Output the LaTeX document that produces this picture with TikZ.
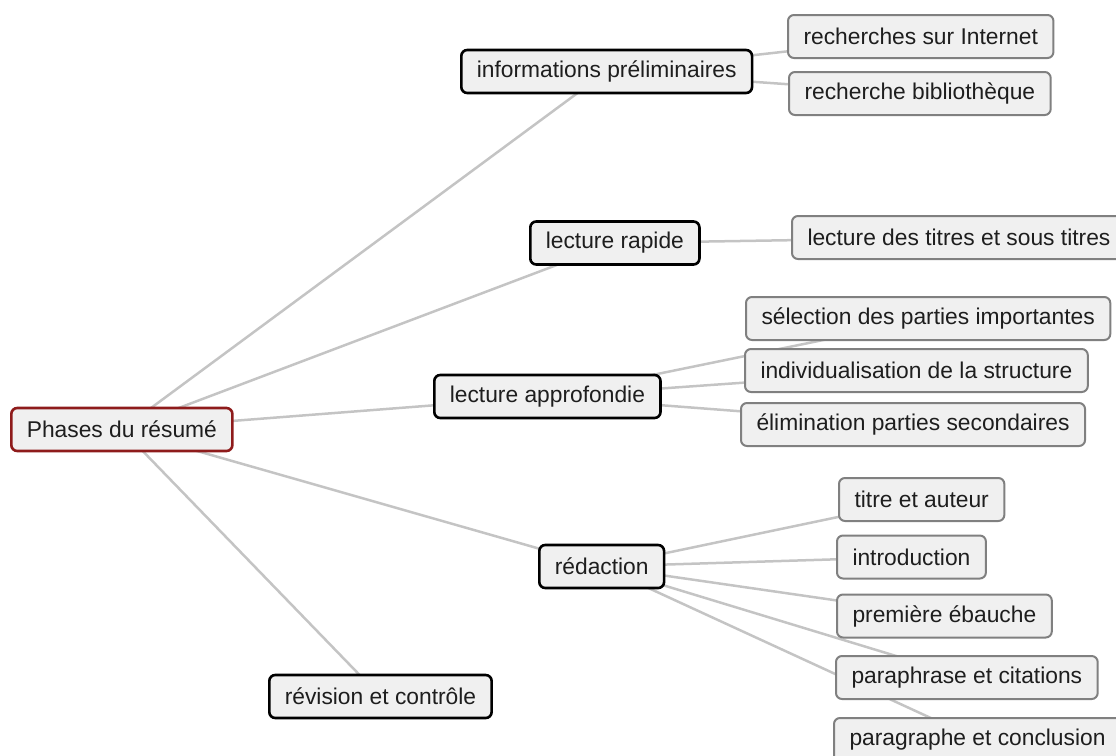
\documentclass[tikz,border=0pt]{standalone}
\usepackage{fontspec}
\setmainfont{Liberation Sans}
\usetikzlibrary{backgrounds}
\definecolor{boxfill}{HTML}{F0F0F0}
\definecolor{rootred}{HTML}{8E1B1B}
\definecolor{leafborder}{HTML}{808080}
\definecolor{linkgray}{HTML}{C4C4C4}
\definecolor{txt}{HTML}{1E1E1E}
\begin{document}
\begin{tikzpicture}[x=1pt,y=-1pt,
  basebox/.style={anchor=west, fill=boxfill, rounded corners=6pt, minimum height=43pt,
    inner xsep=15.5pt, inner ysep=0pt, text=txt, font=\fontsize{22.8}{27}\selectfont},
  rootbox/.style={basebox, draw=rootred, line width=2.6pt},
  mainbox/.style={basebox, draw=black, line width=2.6pt},
  leafbox/.style={basebox, draw=leafborder, line width=2pt},
  link/.style={draw=linkgray, line width=2.5pt}]
\useasboundingbox (0,0) rectangle (1116,755);
% nodes
\node[rootbox] (root) at (10,429.5) {Phases du résumé};
\node[mainbox] (info) at (460,71.5) {informations préliminaires};
\node[mainbox] (rapide) at (529,243) {lecture rapide};
\node[mainbox] (appro) at (433,396.5) {lecture approfondie};
\node[mainbox] (redac) at (538,566.5) {rédaction};
\node[mainbox] (revis) at (268,696.5) {révision et contrôle};
\node[leafbox] (rint) at (787,36.5) {recherches sur Internet};
\node[leafbox] (rbib) at (788,93.5) {recherche bibliothèque};
\node[leafbox] (titres) at (791,237.5) {lecture des titres et sous titres};
\node[leafbox] (sel) at (745,318.5) {sélection des parties importantes};
\node[leafbox] (indiv) at (744,370.5) {individualisation de la structure};
\node[leafbox] (elim) at (740,424.5) {élimination parties secondaires};
\node[leafbox] (titre) at (838,499.5) {titre et auteur};
\node[leafbox] (intro) at (836,557) {introduction};
\node[leafbox] (ebauche) at (836,616) {première ébauche};
\node[leafbox] (para) at (835,677.5) {paraphrase et citations};
\node[leafbox] (concl) at (833,739.5) {paragraphe et conclusion};
% links behind the boxes
\begin{scope}[on background layer]
\draw[link] (root.center) -- (info.center);
\draw[link] (root.center) -- (rapide.center);
\draw[link] (root.center) -- (appro.center);
\draw[link] (root.center) -- (redac.center);
\draw[link] (root.center) -- (revis.center);
\draw[link] (info.center) -- (rint.center);
\draw[link] (info.center) -- (rbib.center);
\draw[link] (rapide.center) -- (titres.center);
\draw[link] (appro.center) -- (sel.center);
\draw[link] (appro.center) -- (indiv.center);
\draw[link] (appro.center) -- (elim.center);
\draw[link] (redac.center) -- (titre.center);
\draw[link] (redac.center) -- (intro.center);
\draw[link] (redac.center) -- (ebauche.center);
\draw[link] (redac.center) -- (para.center);
\draw[link] (redac.center) -- (concl.center);
\end{scope}
\end{tikzpicture}
\end{document}
